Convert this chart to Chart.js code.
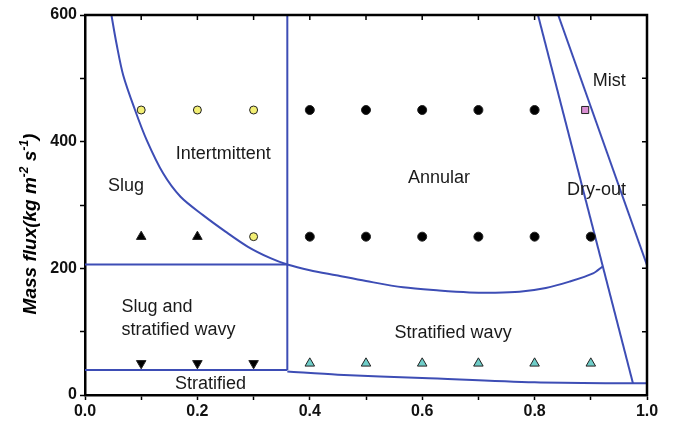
<!DOCTYPE html>
<html>
<head>
<meta charset="utf-8">
<script src="https://cdn.jsdelivr.net/npm/chart.js@4.4.1/dist/chart.umd.min.js"></script>
<style>
  html, body { margin: 0; padding: 0; background: #fff; }
  #wrap { width: 673px; height: 431px; }
</style>
</head>
<body>
<div id="wrap"><canvas id="chart"></canvas></div>
<script>
// axis ticks
const xTickValues = [0, 0.2, 0.4, 0.6, 0.8, 1.0];
const xTickLabels = ['0.0', '0.2', '0.4', '0.6', '0.8', '1.0'];
const yTickValues = [0, 200, 400, 600];
const yTickLabels = ['0', '200', '400', '600'];

// experimental points
const yellowX = [0.1, 0.2, 0.3, 0.3];
const yellowY = [450, 450, 450, 250];
const blackX = [0.4, 0.5, 0.6, 0.7, 0.8, 0.4, 0.5, 0.6, 0.7, 0.8, 0.9];
const blackY = [450, 450, 450, 450, 450, 250, 250, 250, 250, 250, 250];
const upTriX = [0.1, 0.2];
const upTriY = [250, 250];
const downTriX = [0.1, 0.2, 0.3];
const downTriY = [50, 50, 50];
const cyanX = [0.4, 0.5, 0.6, 0.7, 0.8, 0.9];
const cyanY = [50, 50, 50, 50, 50, 50];
const mistX = [0.89];
const mistY = [450];

// transition boundaries
const intermittentX = [0.047, 0.056, 0.068, 0.089, 0.110, 0.139, 0.17, 0.21, 0.25, 0.29, 0.33, 0.36, 0.40, 0.447, 0.50, 0.566, 0.63, 0.684, 0.73, 0.773, 0.82, 0.862, 0.904, 0.921];
const intermittentY = [600, 555, 505, 450, 402, 350, 313, 284, 258, 234, 216, 206, 197, 189, 180, 170, 165, 162, 161.5, 163, 169, 179, 192, 203];
const annularX = [0.36, 0.36];
const annularY = [600, 39.5];
const slugX = [0, 0.36];
const slugY = [206, 206];
const stratX = [0, 0.36];
const stratY = [39.5, 39.5];
const wavyX = [0.36, 0.45, 0.6, 0.8, 0.975, 1.0];
const wavyY = [37, 32, 27, 20, 18.4, 18.4];
const dryoutX = [0.806, 0.975];
const dryoutY = [600, 18.4];
const mistLineX = [0.842, 1.0];
const mistLineY = [600, 205];

// region names
const regionText = ['Slug', 'Intertmittent', 'Annular', 'Mist', 'Dry-out', 'Slug and', 'stratified wavy', 'Stratified', 'Stratified wavy'];
const regionX = [0.073, 0.246, 0.63, 0.933, 0.91, 0.065, 0.065, 0.2235, 0.655];
const regionY = [330, 380, 342, 495, 324, 139, 103, 17.4, 98.4];
const regionAlign = ['center', 'center', 'center', 'center', 'center', 'left', 'left', 'center', 'center'];

const lineColor = '#3d4db5';

function pts(xs, ys) {
    return xs.map((x, i) => ({ x: x, y: ys[i] }));
}

function markers(xs, ys, style, radius, fill, rotation) {
    return {
        type: 'scatter',
        data: pts(xs, ys),
        pointStyle: style,
        pointRadius: radius,
        pointHoverRadius: radius,
        pointRotation: rotation || 0,
        backgroundColor: fill,
        borderColor: '#222',
        borderWidth: 1,
        clip: false
    };
}

function boundary(xs, ys, tension) {
    return {
        type: 'line',
        data: pts(xs, ys),
        borderColor: lineColor,
        borderWidth: 2,
        pointRadius: 0,
        fill: false,
        tension: tension || 0
    };
}

const framePlugin = {
    id: 'frame',
    afterDraw(chart) {
        const ctx = chart.ctx;
        const a = chart.chartArea;
        const xs = chart.scales.x;
        const ys = chart.scales.y;
        ctx.save();
        ctx.strokeStyle = '#000';
        ctx.lineWidth = 2.5;
        ctx.beginPath();
        ctx.moveTo(a.left - 1, a.top);
        ctx.lineTo(a.right, a.top);
        ctx.lineTo(a.right, a.bottom + 1);
        ctx.stroke();
        ctx.lineWidth = 1.5;
        ctx.beginPath();
        xs.ticks.forEach(t => {
            const px = xs.getPixelForValue(t.value);
            ctx.moveTo(px, a.top);
            ctx.lineTo(px, a.top + 5);
        });
        ys.ticks.forEach(t => {
            const py = ys.getPixelForValue(t.value);
            ctx.moveTo(a.right, py);
            ctx.lineTo(a.right - 5, py);
        });
        ctx.stroke();

        // region names
        ctx.fillStyle = '#1a1a1a';
        ctx.font = '18px "Liberation Sans", Arial, sans-serif';
        ctx.textBaseline = 'middle';
        regionText.forEach((txt, i) => {
            ctx.textAlign = regionAlign[i];
            ctx.fillText(txt, xs.getPixelForValue(regionX[i]), ys.getPixelForValue(regionY[i]));
        });

        // y axis title with superscripts
        const parts = [['Mass flux(kg m', false], ['-2', true], [' s', false], ['-1', true], [')', false]];
        const big = 'bold italic 19px "Liberation Sans", Arial, sans-serif';
        const small = 'bold italic 12px "Liberation Sans", Arial, sans-serif';
        let total = 0;
        parts.forEach(p => { ctx.font = p[1] ? small : big; total += ctx.measureText(p[0]).width; });
        ctx.translate(36, (a.top + a.bottom) / 2 + 19);
        ctx.rotate(-Math.PI / 2);
        ctx.textAlign = 'left';
        ctx.textBaseline = 'alphabetic';
        ctx.fillStyle = '#000';
        let pos = -total / 2;
        parts.forEach(p => {
            ctx.font = p[1] ? small : big;
            ctx.fillText(p[0], pos, p[1] ? -8 : 0);
            pos += ctx.measureText(p[0]).width;
        });
        ctx.restore();
    }
};

function labelFor(values, labels) {
    return function (value) {
        const i = values.findIndex(v => Math.abs(v - value) < 1e-6);
        return i >= 0 ? labels[i] : '';
    };
}

const tickFont = { family: '"Liberation Sans", Arial, sans-serif', size: 16, weight: 'bold' };

new Chart(document.getElementById('chart'), {
    data: {
        datasets: [
            markers(mistX, mistY, 'rect', 5, '#d98fd2'),
            markers(yellowX, yellowY, 'circle', 4, '#f3ef74'),
            markers(blackX, blackY, 'circle', 4.5, '#000'),
            markers(upTriX, upTriY, 'triangle', 5.5, '#000'),
            markers(downTriX, downTriY, 'triangle', 5.5, '#000', 180),
            markers(cyanX, cyanY, 'triangle', 5.5, '#6fcdc8'),
            boundary(intermittentX, intermittentY, 0.3),
            boundary(annularX, annularY),
            boundary(slugX, slugY),
            boundary(stratX, stratY),
            boundary(wavyX, wavyY, 0.3),
            boundary(dryoutX, dryoutY),
            boundary(mistLineX, mistLineY)
        ]
    },
    options: {
        responsive: true,
        maintainAspectRatio: false,
        animation: false,
        layout: { padding: { left: 0, right: 26, top: 15, bottom: 0 } },
        plugins: { legend: { display: false }, tooltip: { enabled: false } },
        scales: {
            x: {
                type: 'linear',
                min: 0,
                max: 1,
                afterFit(scale) { scale.height = 36; },
                ticks: {
                    stepSize: 0.1,
                    autoSkip: false,
                    maxRotation: 0,
                    padding: 2,
                    color: '#111',
                    font: tickFont,
                    callback: labelFor(xTickValues, xTickLabels)
                },
                grid: { drawOnChartArea: false, drawTicks: true, tickLength: 5, tickColor: '#000', tickWidth: 1.5 },
                border: { display: true, color: '#000', width: 2.5 }
            },
            y: {
                type: 'linear',
                min: 0,
                max: 600,
                afterFit(scale) { scale.width = 85; },
                ticks: {
                    stepSize: 100,
                    autoSkip: false,
                    padding: 3,
                    color: '#111',
                    font: tickFont,
                    callback: labelFor(yTickValues, yTickLabels)
                },
                grid: { drawOnChartArea: false, drawTicks: true, tickLength: 5, tickColor: '#000', tickWidth: 1.5 },
                border: { display: true, color: '#000', width: 2.5 }
            }
        }
    },
    plugins: [framePlugin]
});
</script>
</body>
</html>
